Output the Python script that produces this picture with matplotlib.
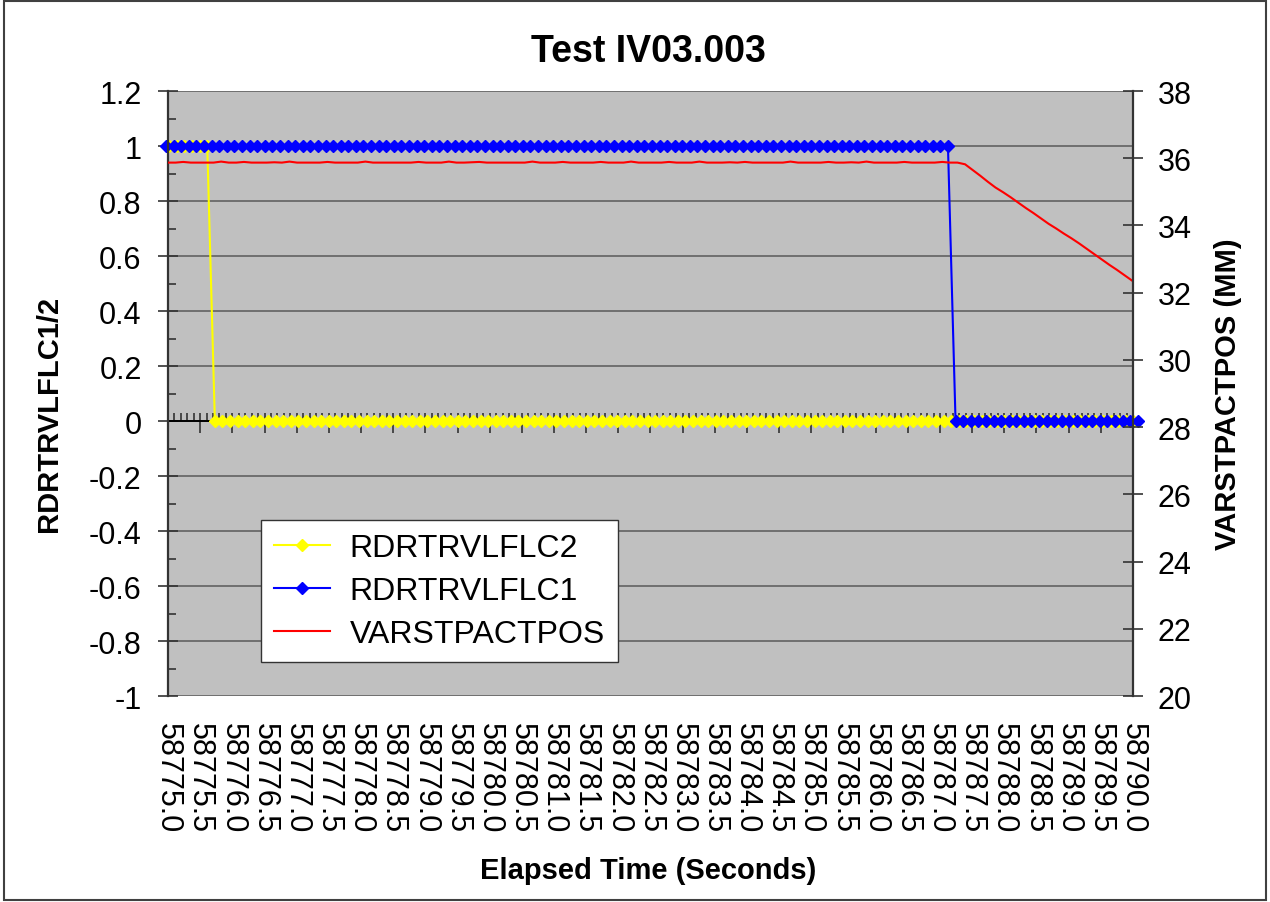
import matplotlib

matplotlib.use("Agg")

import matplotlib.pyplot as plt
import numpy as np
from matplotlib.patches import Rectangle
from matplotlib.ticker import FuncFormatter

plt.rcParams["font.family"] = ["Liberation Sans", "DejaVu Sans"]

# logger sample period and first sample of each channel (seconds)
SAMPLE_STEP = 0.118
T0_FLC1 = 58774.97
T0_FLC2 = 58775.02
T0_POS = 58775.00

# flags, one value per sample
flc2 = [1] * 6 + [0] * 122
flc1 = [1] * 104 + [0] * 25

# actuator position (mm), one value per sample
varstpactpos = [
    35.87, 35.87, 35.89, 35.87, 35.87, 35.87, 35.87, 35.90, 35.87, 35.87,
    35.89, 35.87, 35.87, 35.87, 35.88, 35.87, 35.90, 35.87, 35.87, 35.87,
    35.87, 35.89, 35.87, 35.87, 35.87, 35.87, 35.90, 35.87, 35.87, 35.87,
    35.87, 35.87, 35.87, 35.89, 35.87, 35.87, 35.87, 35.90, 35.87, 35.87,
    35.88, 35.89, 35.87, 35.87, 35.87, 35.87, 35.87, 35.87, 35.90, 35.87,
    35.87, 35.87, 35.89, 35.87, 35.87, 35.87, 35.87, 35.89, 35.87, 35.87,
    35.87, 35.90, 35.87, 35.87, 35.87, 35.87, 35.89, 35.87, 35.87, 35.87,
    35.90, 35.87, 35.87, 35.87, 35.88, 35.87, 35.89, 35.87, 35.87, 35.87,
    35.87, 35.87, 35.90, 35.87, 35.87, 35.87, 35.87, 35.89, 35.87, 35.87,
    35.88, 35.87, 35.90, 35.87, 35.87, 35.87, 35.87, 35.89, 35.87, 35.87,
    35.87, 35.87, 35.89, 35.87, 35.87,
    35.82, 35.65, 35.48, 35.30, 35.13, 34.99, 34.84, 34.68, 34.52, 34.37,
    34.21, 34.05, 33.91, 33.76, 33.62, 33.47, 33.31, 33.15, 32.99, 32.83,
    32.68, 32.52, 32.36,
]

x_major = np.arange(58775.0, 58790.01, 0.5)
x_minor = np.arange(58775.0, 58790.01, 0.1)
y_left_major = np.round(np.arange(-1.0, 1.21, 0.2), 1)
y_left_minor = np.round(np.arange(-1.0, 1.21, 0.1), 1)
y_right_major = np.arange(20, 39, 2)

t_flc1 = T0_FLC1 + SAMPLE_STEP * np.arange(len(flc1))
t_flc2 = T0_FLC2 + SAMPLE_STEP * np.arange(len(flc2))
t_pos = T0_POS + SAMPLE_STEP * np.arange(len(varstpactpos))

FS = 22
DARK = "#333333"

fig = plt.figure(figsize=(12.7, 9.03), dpi=100)
fig.patches.append(
    Rectangle((0.003, 0.002), 0.994, 0.996, transform=fig.transFigure,
              fill=False, edgecolor="#404040", lw=1.5)
)

ax = fig.add_axes([0.1323, 0.2281, 0.7598, 0.6700])
ax.set_facecolor("#C0C0C0")
ax.set_axisbelow(True)

(l2,) = ax.plot(t_flc2, flc2, color="#FFFF00", lw=1.5, marker="D",
                markersize=6.5, label="RDRTRVLFLC2", clip_on=False)
(l1,) = ax.plot(t_flc1, flc1, color="#0000FF", lw=1.5, marker="D",
                markersize=6.5, label="RDRTRVLFLC1", clip_on=False)

ax.set_xlim(58775.0, 58790.0)
ax.set_ylim(-1.0, 1.2)

# left axis
ax.set_yticks(y_left_major)
ax.set_yticks(y_left_minor, minor=True)
ax.yaxis.set_major_formatter(FuncFormatter(lambda v, p: f"{round(v, 1) + 0.0:g}"))
ax.tick_params(axis="y", which="major", direction="inout", length=14,
               width=1.2, color=DARK, pad=12, labelsize=FS)
ax.tick_params(axis="y", which="minor", direction="in", length=6,
               width=1.2, color=DARK)
ax.grid(axis="y", which="major", color="#5a5a5a", lw=1.1)

# x axis crosses at 0, labels sit under the plot area
ax.spines["bottom"].set_position(("data", 0))
ax.spines["bottom"].set_color("black")
ax.spines["bottom"].set_linewidth(1.4)
ax.spines["bottom"].set_zorder(1)
ax.spines["top"].set_visible(False)
ax.spines["right"].set_visible(False)
ax.spines["left"].set_color(DARK)
ax.spines["left"].set_linewidth(1.6)
ax.set_xticks(x_major)
ax.set_xticks(x_minor, minor=True)
ax.xaxis.remove_overlapping_locs = False
ax.tick_params(axis="x", which="major", direction="out", length=8.5,
               width=1.2, color=DARK, labelbottom=False)
ax.tick_params(axis="x", which="minor", direction="in", length=6,
               width=1.2, color=DARK)

sec = ax.secondary_xaxis("bottom")
sec.set_xticks(x_major)
sec.xaxis.set_major_formatter(FuncFormatter(lambda v, p: f"{v:.1f}"))
sec.tick_params(length=0, pad=19, labelsize=FS, labelrotation=-90)
sec.spines["bottom"].set_visible(False)

ax.set_ylabel("RDRTRVLFLC1/2", fontsize=21, fontweight="bold")
ax.yaxis.set_label_coords(-0.1088, 0.468)

# right axis
ax2 = ax.twinx()
(l3,) = ax2.plot(t_pos, varstpactpos, color="#FF0000", lw=1.5,
                 label="VARSTPACTPOS")
ax2.set_ylim(20, 38)
ax2.set_yticks(y_right_major)
ax2.tick_params(axis="y", direction="inout", length=14, width=1.2,
                color=DARK, pad=11, labelsize=FS)
for side in ("top", "bottom", "left"):
    ax2.spines[side].set_visible(False)
ax2.spines["right"].set_color(DARK)
ax2.spines["right"].set_linewidth(1.6)
ax2.set_ylabel("VARSTPACTPOS (MM)", fontsize=21, fontweight="bold")
ax2.yaxis.set_label_coords(1.0839, 0.5)

ax2.legend(
    [l2, l1, l3],
    ["RDRTRVLFLC2", "RDRTRVLFLC1", "VARSTPACTPOS"],
    loc="upper left",
    bbox_to_anchor=(0.2055, 0.423),
    bbox_transform=fig.transFigure,
    borderaxespad=0,
    fancybox=False,
    framealpha=1,
    facecolor="white",
    edgecolor=DARK,
    fontsize=23,
    numpoints=1,
    handlelength=1.75,
    handletextpad=0.6,
    labelspacing=0.4,
    borderpad=0.42,
)

fig.text(0.5106, 1 - 52 / 903, "Test IV03.003", ha="center", va="center",
         fontsize=27, fontweight="bold")
fig.text(0.5102, 1 - 871 / 903, "Elapsed Time (Seconds)", ha="center",
         va="center", fontsize=21, fontweight="bold")

fig.savefig("out.png", dpi=100)
